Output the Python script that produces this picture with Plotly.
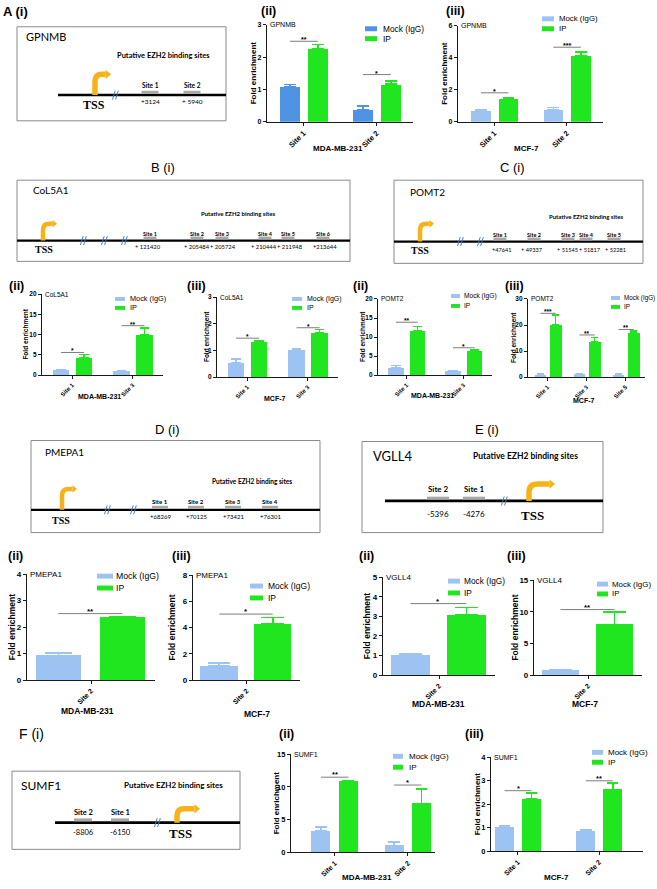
import plotly.graph_objects as go

W, H = 657, 889

# ---------------- data ----------------
series_names = ["Mock (IgG)", "IP"]
cell_lines = ["MDA-MB-231", "MCF-7"]

# GPNMB
gpnmb_sites = ["Site 1", "Site 2"]
gpnmb_mda_mock = [1.08, 0.37]
gpnmb_mda_mock_err = [0.07, 0.12]
gpnmb_mda_ip = [2.26, 1.16]
gpnmb_mda_ip_err = [0.13, 0.11]
gpnmb_mda_sig = [2.49, 1.46]
gpnmb_mda_stars = ["**", "*"]
gpnmb_mcf_mock = [0.70, 0.74]
gpnmb_mcf_mock_err = [0.08, 0.15]
gpnmb_mcf_ip = [1.44, 4.10]
gpnmb_mcf_ip_err = [0.06, 0.25]
gpnmb_mcf_sig = [1.81, 4.66]
gpnmb_mcf_stars = ["*", "***"]

# CoL5A1
col5a1_sites = ["Site 1", "Site 3"]
col5a1_mda_mock = [1.2, 1.1]
col5a1_mda_mock_err = [0.25, 0.1]
col5a1_mda_ip = [4.3, 10.0]
col5a1_mda_ip_err = [0.8, 1.6]
col5a1_mda_sig = [5.6, 12.2]
col5a1_mda_stars = ["*", "**"]
col5a1_mcf_mock = [0.52, 1.01]
col5a1_mcf_mock_err = [0.16, 0.06]
col5a1_mcf_ip = [1.33, 1.67]
col5a1_mcf_ip_err = [0.03, 0.12]
col5a1_mcf_sig = [1.46, 1.85]
col5a1_mcf_stars = ["*", "*"]

# POMT2
pomt2_mda_sites = ["Site 1", "Site 3"]
pomt2_mda_mock = [1.9, 1.0]
pomt2_mda_mock_err = [0.6, 0.2]
pomt2_mda_ip = [11.7, 6.3]
pomt2_mda_ip_err = [1.1, 0.3]
pomt2_mda_sig = [13.9, 7.2]
pomt2_mda_stars = ["**", "*"]
pomt2_mcf_sites = ["Site 1", "Site 3", "Site 5"]
pomt2_mcf_mock = [1.0, 1.1, 1.0]
pomt2_mcf_mock_err = [0.2, 0.2, 0.3]
pomt2_mcf_ip = [20.2, 13.5, 16.9]
pomt2_mcf_ip_err = [3.7, 1.7, 0.9]
pomt2_mcf_sig = [24.5, 16.2, 18.3]
pomt2_mcf_stars = ["***", "**", "**"]

# PMEPA1
pmepa1_sites = ["Site 2"]
pmepa1_mda_mock = [0.93]
pmepa1_mda_mock_err = [0.10]
pmepa1_mda_ip = [2.36]
pmepa1_mda_ip_err = [0.04]
pmepa1_mda_sig = [2.51]
pmepa1_mda_stars = ["**"]
pmepa1_mcf_mock = [1.06]
pmepa1_mcf_mock_err = [0.25]
pmepa1_mcf_ip = [4.28]
pmepa1_mcf_ip_err = [0.50]
pmepa1_mcf_sig = [5.03]
pmepa1_mcf_stars = ["*"]

# VGLL4
vgll4_sites = ["Site 2"]
vgll4_mda_mock = [1.01]
vgll4_mda_mock_err = [0.08]
vgll4_mda_ip = [3.08]
vgll4_mda_ip_err = [0.37]
vgll4_mda_sig = [3.65]
vgll4_mda_stars = ["*"]
vgll4_mcf_mock = [0.78]
vgll4_mcf_mock_err = [0.08]
vgll4_mcf_ip = [8.0]
vgll4_mcf_ip_err = [1.93]
vgll4_mcf_sig = [10.35]
vgll4_mcf_stars = ["**"]

# SUMF1
sumf1_sites = ["Site 1", "Site 2"]
sumf1_mda_mock = [3.28, 1.06]
sumf1_mda_mock_err = [0.6, 0.5]
sumf1_mda_ip = [10.8, 7.46]
sumf1_mda_ip_err = [0.2, 2.24]
sumf1_mda_sig = [11.5, 10.3]
sumf1_mda_stars = ["**", "*"]
sumf1_mcf_mock = [1.01, 0.87]
sumf1_mcf_mock_err = [0.07, 0.03]
sumf1_mcf_ip = [2.23, 2.62]
sumf1_mcf_ip_err = [0.25, 0.28]
sumf1_mcf_sig = [2.58, 3.0]
sumf1_mcf_stars = ["*", "**"]

# diagram texts
gpnmb_site_names = ["Site 1", "Site 2"]
gpnmb_site_coords = ["+3124", "+ 5940"]
col5a1_site_names = ["Site 1", "Site 2", "Site 3", "Site 4", "Site 5", "Site 6"]
col5a1_site_coords = ["+ 121420", "+ 205484", "+ 205724", "+ 210444", "+ 211948", "+213644"]
pomt2_site_names = ["Site 1", "Site 2", "Site 3", "Site 4", "Site 5"]
pomt2_site_coords = ["+47641", "+ 49337", "+ 51545", "+ 51817", "+ 52281"]
pmepa1_site_names = ["Site 1", "Site 2", "Site 3", "Site 4"]
pmepa1_site_coords = ["+68269", "+70125", "+73421", "+76301"]
vgll4_site_names = ["Site 2", "Site 1"]
vgll4_site_coords = ["-5396", "-4276"]
sumf1_site_names = ["Site 2", "Site 1"]
sumf1_site_coords = ["-8806", "-6150"]

# ---------------- styling ----------------
ARIAL = "Liberation Sans, Arial, sans-serif"
CALIBRI = "Lato, Open Sans, sans-serif"
NARROW = "Liberation Sans Narrow, Lato, sans-serif"
TIMES = "Liberation Serif, Times New Roman, serif"
GREEN = "#1fe61f"
LIGHTBLUE = "#9dc3f2"
DARKBLUE = "#4f93e4"
ORANGE = "#f7b21a"
BREAK_BLUE = "#4a7ebb"
SITE_GRAY = "#a8a8a8"
BOX_GRAY = "#8a8a8a"


def X(px):
    return px / W


def Y(py):
    return 1 - py / H


shapes = []
annotations = []


def text(t, x, y, size, family=ARIAL, bold=False, xanchor="center", yanchor="middle",
         color="black", angle=0):
    annotations.append(dict(
        text=t, x=X(x), y=Y(y), xref="paper", yref="paper", showarrow=False,
        xanchor=xanchor, yanchor=yanchor, textangle=angle, borderpad=0,
        font=dict(size=size, family=family, color=color,
                  weight="bold" if bold else "normal")))


def pline(x0, y0, x1, y1, color, lw):
    shapes.append(dict(type="line", xref="paper", yref="paper",
                       x0=X(x0), y0=Y(y0), x1=X(x1), y1=Y(y1),
                       line=dict(color=color, width=lw)))


def prect(x0, y0, x1, y1, fill=None, line_color=None, lw=1):
    shapes.append(dict(type="rect", xref="paper", yref="paper",
                       x0=X(x0), x1=X(x1), y0=Y(y1), y1=Y(y0),
                       fillcolor=fill if fill else "rgba(0,0,0,0)",
                       line=dict(color=line_color if line_color else "rgba(0,0,0,0)",
                                 width=lw if line_color else 0)))


def tss_arrow(x, yb, yt, xe, lw, hs):
    r = min((xe - x) * 0.45, (yb - yt) * 0.5)
    xh = xe - hs
    path = (f"M {X(x)},{Y(yb)} L {X(x)},{Y(yt + r)} Q {X(x)},{Y(yt)} "
            f"{X(x + r)},{Y(yt)} L {X(xh)},{Y(yt)}")
    shapes.append(dict(type="path", path=path, xref="paper", yref="paper",
                       line=dict(color=ORANGE, width=lw)))
    head = (f"M {X(xh)},{Y(yt - hs * 0.85)} L {X(xe)},{Y(yt)} "
            f"L {X(xh)},{Y(yt + hs * 0.85)} Z")
    shapes.append(dict(type="path", path=head, xref="paper", yref="paper",
                       fillcolor=ORANGE, line=dict(width=0)))


def brk(x, y, h=4.5):
    pline(x - 2.5, y + h, x + 0.2, y - h, BREAK_BLUE, 1)
    pline(x + 0.6, y + h, x + 3.3, y - h, BREAK_BLUE, 1)


def diagram(box, gene, gene_xy, gene_size, put_xy, put_size, line_y, line_x, lw,
            tss, tss_lbl, tss_size, breaks, site_x, names, coords, lbl_y, num_y,
            site_size, bar_w, bar_h=3, num_x=None, num_family=CALIBRI, num_size=None):
    prect(*box, line_color=BOX_GRAY, lw=1)
    text(gene, gene_xy[0], gene_xy[1], gene_size, family=CALIBRI, xanchor="left")
    text("Putative EZH2 binding sites", put_xy[0], put_xy[1], put_size,
         family=CALIBRI, bold=True)
    pline(line_x[0], line_y, line_x[1], line_y, "black", lw)
    for bx in breaks:
        brk(bx, line_y)
    if num_x is None:
        num_x = site_x
    for sx, nx, nm, cd in zip(site_x, num_x, names, coords):
        prect(sx - bar_w / 2, line_y - lw / 2 - bar_h, sx + bar_w / 2, line_y - lw / 2,
              fill=SITE_GRAY)
        text(nm, sx, lbl_y, site_size, family=CALIBRI, bold=True)
        text(cd, nx, num_y, num_size or site_size, family=num_family, bold=False)
    tss_arrow(*tss)
    text("<b>TSS</b>", tss_lbl[0], tss_lbl[1], tss_size, family=TIMES)


# ---------------- diagrams ----------------
text("A (i)", 2, 8, 13, bold=True, xanchor="left")
diagram((17, 23, 226, 118), "GPNMB", (25, 33), 11, (163, 52), 7.5, 92, (58, 226), 2.6,
        (95, 92, 71, 111, 5.5, 5.5), (94, 102), 12, [115], [150, 192],
        gpnmb_site_names, gpnmb_site_coords, 82, 99, 6.5, 17)

text("B (i)", 163, 165, 13)
diagram((17, 178, 350, 260), "CoL5A1", (32, 188), 10, (238, 212), 6, 239, (17, 350), 2.2,
        (43, 239, 222, 57, 4.5, 4.5), (44, 248), 10, [83, 104, 124],
        [150, 197, 222, 265, 288, 323], col5a1_site_names, col5a1_site_coords,
        232, 245, 5.5, 13, num_x=[148, 197, 223, 264, 290, 325],
        num_family=NARROW, num_size=5.8)

text("C (i)", 512, 165, 13)
diagram((394, 178, 643, 262), "POMT2", (409, 190), 10, (586, 215), 6, 240, (394, 643), 2.2,
        (420, 240, 222, 434, 4.5, 4.5), (420, 249), 10, [460, 480],
        [500, 534, 568, 586, 614], pomt2_site_names, pomt2_site_coords,
        233, 248, 5.5, 13, num_x=[501, 532, 567, 590, 615],
        num_family=NARROW, num_size=5.6)

text("D (i)", 167, 430, 13)
diagram((31, 441, 320, 534), "PMEPA1", (44, 453), 10, (252, 482), 6.5, 511, (31, 320), 2.2,
        (62, 511, 490, 77, 4.5, 4.5), (61, 522), 10, [107, 133],
        [160, 196, 233, 270], pmepa1_site_names, pmepa1_site_coords,
        503, 518, 6, 16)

text("E (i)", 487, 430, 13)
diagram((362, 442, 603, 534), "VGLL4", (372, 457), 13, (525, 457), 8.5, 502, (385, 603), 2.6,
        (529, 502, 485, 555, 5.5, 5.5), (532, 517), 13, [504],
        [438, 474], vgll4_site_names, vgll4_site_coords, 490, 515, 8, 22)

text("F (i)", 18, 737, 14, xanchor="left")
diagram((12, 775, 240, 854), "SUMF1", (20, 789), 12, (173, 789), 8, 827, (55, 240), 2.6,
        (177, 827, 813, 200, 5.5, 5.5), (180, 838), 13, [157],
        [83, 120], sumf1_site_names, sumf1_site_coords, 817, 837, 7.5, 18)

# ---------------- bar charts ----------------
ROW_A = dict(tick=7, ytitle=8, cell=8, xtick=7.5, gene=7, leg=8.3)
ROW_BC = dict(tick=6.5, ytitle=6.5, cell=7, xtick=6, gene=6.5, leg=7)
ROW_DE = dict(tick=8, ytitle=8.5, cell=8.5, xtick=7, gene=8, leg=8.5)
ROW_F = dict(tick=7.5, ytitle=8, cell=8, xtick=7, gene=7, leg=8)

TWO = dict(xr=[-0.5, 1.5], mo=-0.32, mw=0.27, io=0.06, iw=0.27)
ONE = dict(xr=[-0.5, 0.5], mo=-0.43, mw=0.35, io=0.07, iw=0.35)

charts = [
    dict(cats=gpnmb_sites, mock=gpnmb_mda_mock, mock_err=gpnmb_mda_mock_err,
         ip=gpnmb_mda_ip, ip_err=gpnmb_mda_ip_err, sig=gpnmb_mda_sig, stars=gpnmb_mda_stars,
         gene="GPNMB", cell=cell_lines[0], box=(267, 413, 21, 119), ymax=3, dtick=1,
         bars=TWO, mc=DARKBLUE, leg=(365, 12, 5, 25, 35, 382, None), ytx=253,
         cellxy=(338, 146), fs=ROW_A, label="(ii)", labxy=(268, 7)),
    dict(cats=gpnmb_sites, mock=gpnmb_mcf_mock, mock_err=gpnmb_mcf_mock_err,
         ip=gpnmb_mcf_ip, ip_err=gpnmb_mcf_ip_err, sig=gpnmb_mcf_sig, stars=gpnmb_mcf_stars,
         gene="GPNMB", cell=cell_lines[1], box=(458, 603, 22, 119), ymax=6, dtick=2,
         bars=TWO, mc=LIGHTBLUE, leg=(542, 12, 5, 15, 25, 558, 7.8), ytx=445,
         cellxy=(526, 146), fs=ROW_A, label="(iii)", labxy=(455, 7)),
    dict(cats=col5a1_sites, mock=col5a1_mda_mock, mock_err=col5a1_mda_mock_err,
         ip=col5a1_mda_ip, ip_err=col5a1_mda_ip_err, sig=col5a1_mda_sig, stars=col5a1_mda_stars,
         gene="CoL5A1", cell=cell_lines[0], box=(42, 163, 293, 375), ymax=20, dtick=5,
         bars=TWO, mc=LIGHTBLUE, leg=(115, 10, 4, 298, 307, 129, 7.3), ytx=26,
         cellxy=(99, 397), fs=ROW_BC, label="(ii)", labxy=(16, 285)),
    dict(cats=col5a1_sites, mock=col5a1_mcf_mock, mock_err=col5a1_mcf_mock_err,
         ip=col5a1_mcf_ip, ip_err=col5a1_mcf_ip_err, sig=col5a1_mcf_sig, stars=col5a1_mcf_stars,
         gene="CoL5A1", cell=cell_lines[1], box=(217, 338, 296, 377), ymax=3, dtick=1,
         bars=TWO, mc=LIGHTBLUE, leg=(292, 10, 4, 298, 307, 306, 7.0), ytx=206,
         cellxy=(274, 399), fs=ROW_BC, label="(iii)", labxy=(196, 285)),
    dict(cats=pomt2_mda_sites, mock=pomt2_mda_mock, mock_err=pomt2_mda_mock_err,
         ip=pomt2_mda_ip, ip_err=pomt2_mda_ip_err, sig=pomt2_mda_sig, stars=pomt2_mda_stars,
         gene="POMT2", cell=cell_lines[0], box=(378, 492, 298, 375), ymax=20, dtick=5,
         bars=TWO, mc=LIGHTBLUE, leg=(451, 9, 4, 295, 305, 463, 6.6), ytx=362,
         cellxy=(432, 396), fs=ROW_BC, label="(ii)", labxy=(360, 285)),
    dict(cats=pomt2_mcf_sites, mock=pomt2_mcf_mock, mock_err=pomt2_mcf_mock_err,
         ip=pomt2_mcf_ip, ip_err=pomt2_mcf_ip_err, sig=pomt2_mcf_sig, stars=pomt2_mcf_stars,
         gene="POMT2", cell=cell_lines[1], box=(528, 645, 298, 377), ymax=30, dtick=10,
         bars=dict(xr=[-0.5, 2.5], mo=-0.32, mw=0.28, io=0.06, iw=0.30),
         mc=LIGHTBLUE, leg=(611, 9, 4, 297, 306, 623, 6.3), ytx=513, cellxy=(583, 401),
         fs=ROW_BC, label="(iii)", labxy=(514, 285)),
    dict(cats=pmepa1_sites, mock=pmepa1_mda_mock, mock_err=pmepa1_mda_mock_err,
         ip=pmepa1_mda_ip, ip_err=pmepa1_mda_ip_err, sig=pmepa1_mda_sig, stars=pmepa1_mda_stars,
         gene="PMEPA1", cell=cell_lines[0], box=(27, 155, 576, 683), ymax=4, dtick=1,
         bars=ONE, mc=LIGHTBLUE, leg=(97, 16, 5, 578, 590, 115, 8.7), ytx=12,
         cellxy=(87, 714), fs=ROW_DE, label="(ii)", labxy=(15, 558)),
    dict(cats=pmepa1_sites, mock=pmepa1_mcf_mock, mock_err=pmepa1_mcf_mock_err,
         ip=pmepa1_mcf_ip, ip_err=pmepa1_mcf_ip_err, sig=pmepa1_mcf_sig, stars=pmepa1_mcf_stars,
         gene="PMEPA1", cell=cell_lines[1], box=(193, 300, 577, 683), ymax=8, dtick=2,
         bars=ONE, mc=LIGHTBLUE, leg=(250, 13, 5, 588, 600, 267, 8.5), ytx=172,
         cellxy=(257, 717), fs=ROW_DE, label="(iii)", labxy=(181, 558)),
    dict(cats=vgll4_sites, mock=vgll4_mda_mock, mock_err=vgll4_mda_mock_err,
         ip=vgll4_mda_ip, ip_err=vgll4_mda_ip_err, sig=vgll4_mda_sig, stars=vgll4_mda_stars,
         gene="VGLL4", cell=cell_lines[0], box=(383, 495, 579, 678), ymax=5, dtick=1,
         bars=ONE, mc=LIGHTBLUE, leg=(448, 12, 5, 583, 595, 463, 8.3), ytx=367,
         cellxy=(438, 707), fs=ROW_DE, label="(ii)", labxy=(366, 558)),
    dict(cats=vgll4_sites, mock=vgll4_mcf_mock, mock_err=vgll4_mcf_mock_err,
         ip=vgll4_mcf_ip, ip_err=vgll4_mcf_ip_err, sig=vgll4_mcf_sig, stars=vgll4_mcf_stars,
         gene="VGLL4", cell=cell_lines[1], box=(534, 642, 582, 678), ymax=15, dtick=5,
         bars=ONE, mc=LIGHTBLUE, leg=(597, 11, 5, 586, 596, 611, 7.9), ytx=515,
         cellxy=(585, 707), fs=ROW_DE, label="(iii)", labxy=(516, 558)),
    dict(cats=sumf1_sites, mock=sumf1_mda_mock, mock_err=sumf1_mda_mock_err,
         ip=sumf1_mda_ip, ip_err=sumf1_mda_ip_err, sig=sumf1_mda_sig, stars=sumf1_mda_stars,
         gene="SUMF1", cell=cell_lines[0], box=(291, 435, 758, 857), ymax=15, dtick=5,
         bars=dict(xr=[-0.6, 1.37], mo=-0.32, mw=0.26, io=0.05, iw=0.27),
         mc=LIGHTBLUE, leg=(393, 10, 5, 760, 771, 408, 8.0), ytx=276, cellxy=(367, 882),
         fs=ROW_F, label="(ii)", labxy=(286, 737)),
    dict(cats=sumf1_sites, mock=sumf1_mcf_mock, mock_err=sumf1_mcf_mock_err,
         ip=sumf1_mcf_ip, ip_err=sumf1_mcf_ip_err, sig=sumf1_mcf_sig, stars=sumf1_mcf_stars,
         gene="SUMF1", cell=cell_lines[1], box=(491, 643, 761, 856), ymax=4, dtick=1,
         bars=dict(xr=[-0.33, 1.54], mo=-0.28, mw=0.235, io=0.05, iw=0.235),
         mc=LIGHTBLUE, leg=(592, 11, 5, 756, 766, 607, 8.0), ytx=477, cellxy=(556, 882),
         fs=ROW_F, label="(iii)", labxy=(474, 737)),
]

fig = go.Figure()
layout_axes = {}

for k, c in enumerate(charts, start=1):
    xa = "x" if k == 1 else f"x{k}"
    ya = "y" if k == 1 else f"y{k}"
    b = c["bars"]
    fs = c["fs"]
    n = len(c["cats"])
    L, R, T, B = c["box"]
    for name, vals, errs, off, wid, col in [
        (series_names[0], c["mock"], c["mock_err"], b["mo"], b["mw"], c["mc"]),
        (series_names[1], c["ip"], c["ip_err"], b["io"], b["iw"], GREEN),
    ]:
        fig.add_trace(go.Bar(
            x=c["cats"], y=vals, name=name, offset=off, width=wid,
            marker=dict(color=col, line=dict(width=0)),
            error_y=dict(type="data", array=errs, arrayminus=[0] * n, symmetric=False,
                         color=col, thickness=1.6,
                         width=max(3, (R - L) * wid / (b["xr"][1] - b["xr"][0]) * 0.3)),
            xaxis=xa, yaxis=ya, showlegend=False, hoverinfo="skip"))
    layout_axes["xaxis" if k == 1 else f"xaxis{k}"] = dict(
        domain=[X(L), X(R)], anchor=ya, range=b["xr"], type="category",
        showline=True, linecolor="#1a1a1a", linewidth=1.2, ticks="outside", ticklen=3,
        tickwidth=1, tickcolor="#1a1a1a", tickangle=-45, showgrid=False, zeroline=False,
        tickfont=dict(family=ARIAL, size=fs["xtick"], color="black", weight="bold"),
        fixedrange=True)
    layout_axes["yaxis" if k == 1 else f"yaxis{k}"] = dict(
        domain=[Y(B), Y(T)], anchor=xa, range=[0, c["ymax"]], dtick=c["dtick"], tick0=0,
        showline=True, linecolor="#1a1a1a", linewidth=1.2, ticks="outside", ticklen=3,
        tickwidth=1, tickcolor="#1a1a1a", showgrid=False, zeroline=False,
        tickfont=dict(family=ARIAL, size=fs["tick"], color="black", weight="bold"),
        fixedrange=True)
    # significance bars
    mc_center = b["mo"] + b["mw"] / 2
    ip_center = b["io"] + b["iw"] / 2
    for i, (sy, st) in enumerate(zip(c["sig"], c["stars"])):
        shapes.append(dict(type="line", xref=xa, yref=ya, x0=i + mc_center, x1=i + ip_center,
                           y0=sy, y1=sy, line=dict(color="#6e6e6e", width=0.9)))
        annotations.append(dict(text=st, x=i + (mc_center + ip_center) / 2, y=sy, xref=xa,
                                yref=ya, showarrow=False, yanchor="bottom", yshift=-3,
                                borderpad=0,
                                font=dict(family=ARIAL, size=fs["tick"], color="black",
                                          weight="bold")))
    # gene label inside plot
    annotations.append(dict(text=c["gene"], x=0, y=1, xref=f"{xa} domain", yref=f"{ya} domain",
                            xanchor="left", yanchor="middle", xshift=2, showarrow=False,
                            borderpad=0,
                            font=dict(family=ARIAL, size=fs["gene"], color="black")))
    # manual legend
    bx, bw, bh, ym, yi, tx, lfs = c["leg"]
    lfs = lfs or fs["leg"]
    prect(bx, ym - bh / 2, bx + bw, ym + bh / 2, fill=c["mc"])
    prect(bx, yi - bh / 2, bx + bw, yi + bh / 2, fill=GREEN)
    text(series_names[0], tx, ym, lfs, xanchor="left")
    text(series_names[1], tx, yi, lfs, xanchor="left")
    # titles
    text("Fold enrichment", c["ytx"], (T + B) / 2, fs["ytitle"], bold=True, angle=-90)
    text(c["cell"], c["cellxy"][0], c["cellxy"][1], fs["cell"], bold=True)
    text(c["label"], c["labxy"][0], c["labxy"][1], 12.5, bold=True)

fig.update_layout(
    width=W, height=H, margin=dict(l=0, r=0, t=0, b=0),
    paper_bgcolor="white", plot_bgcolor="white",
    shapes=shapes, annotations=annotations, showlegend=False,
    bargap=0, **layout_axes)

fig.write_html(
    "out.html",
    config={"displayModeBar": False, "staticPlot": False},
    post_script="document.body.style.margin='0px';document.body.style.overflow='hidden';")
